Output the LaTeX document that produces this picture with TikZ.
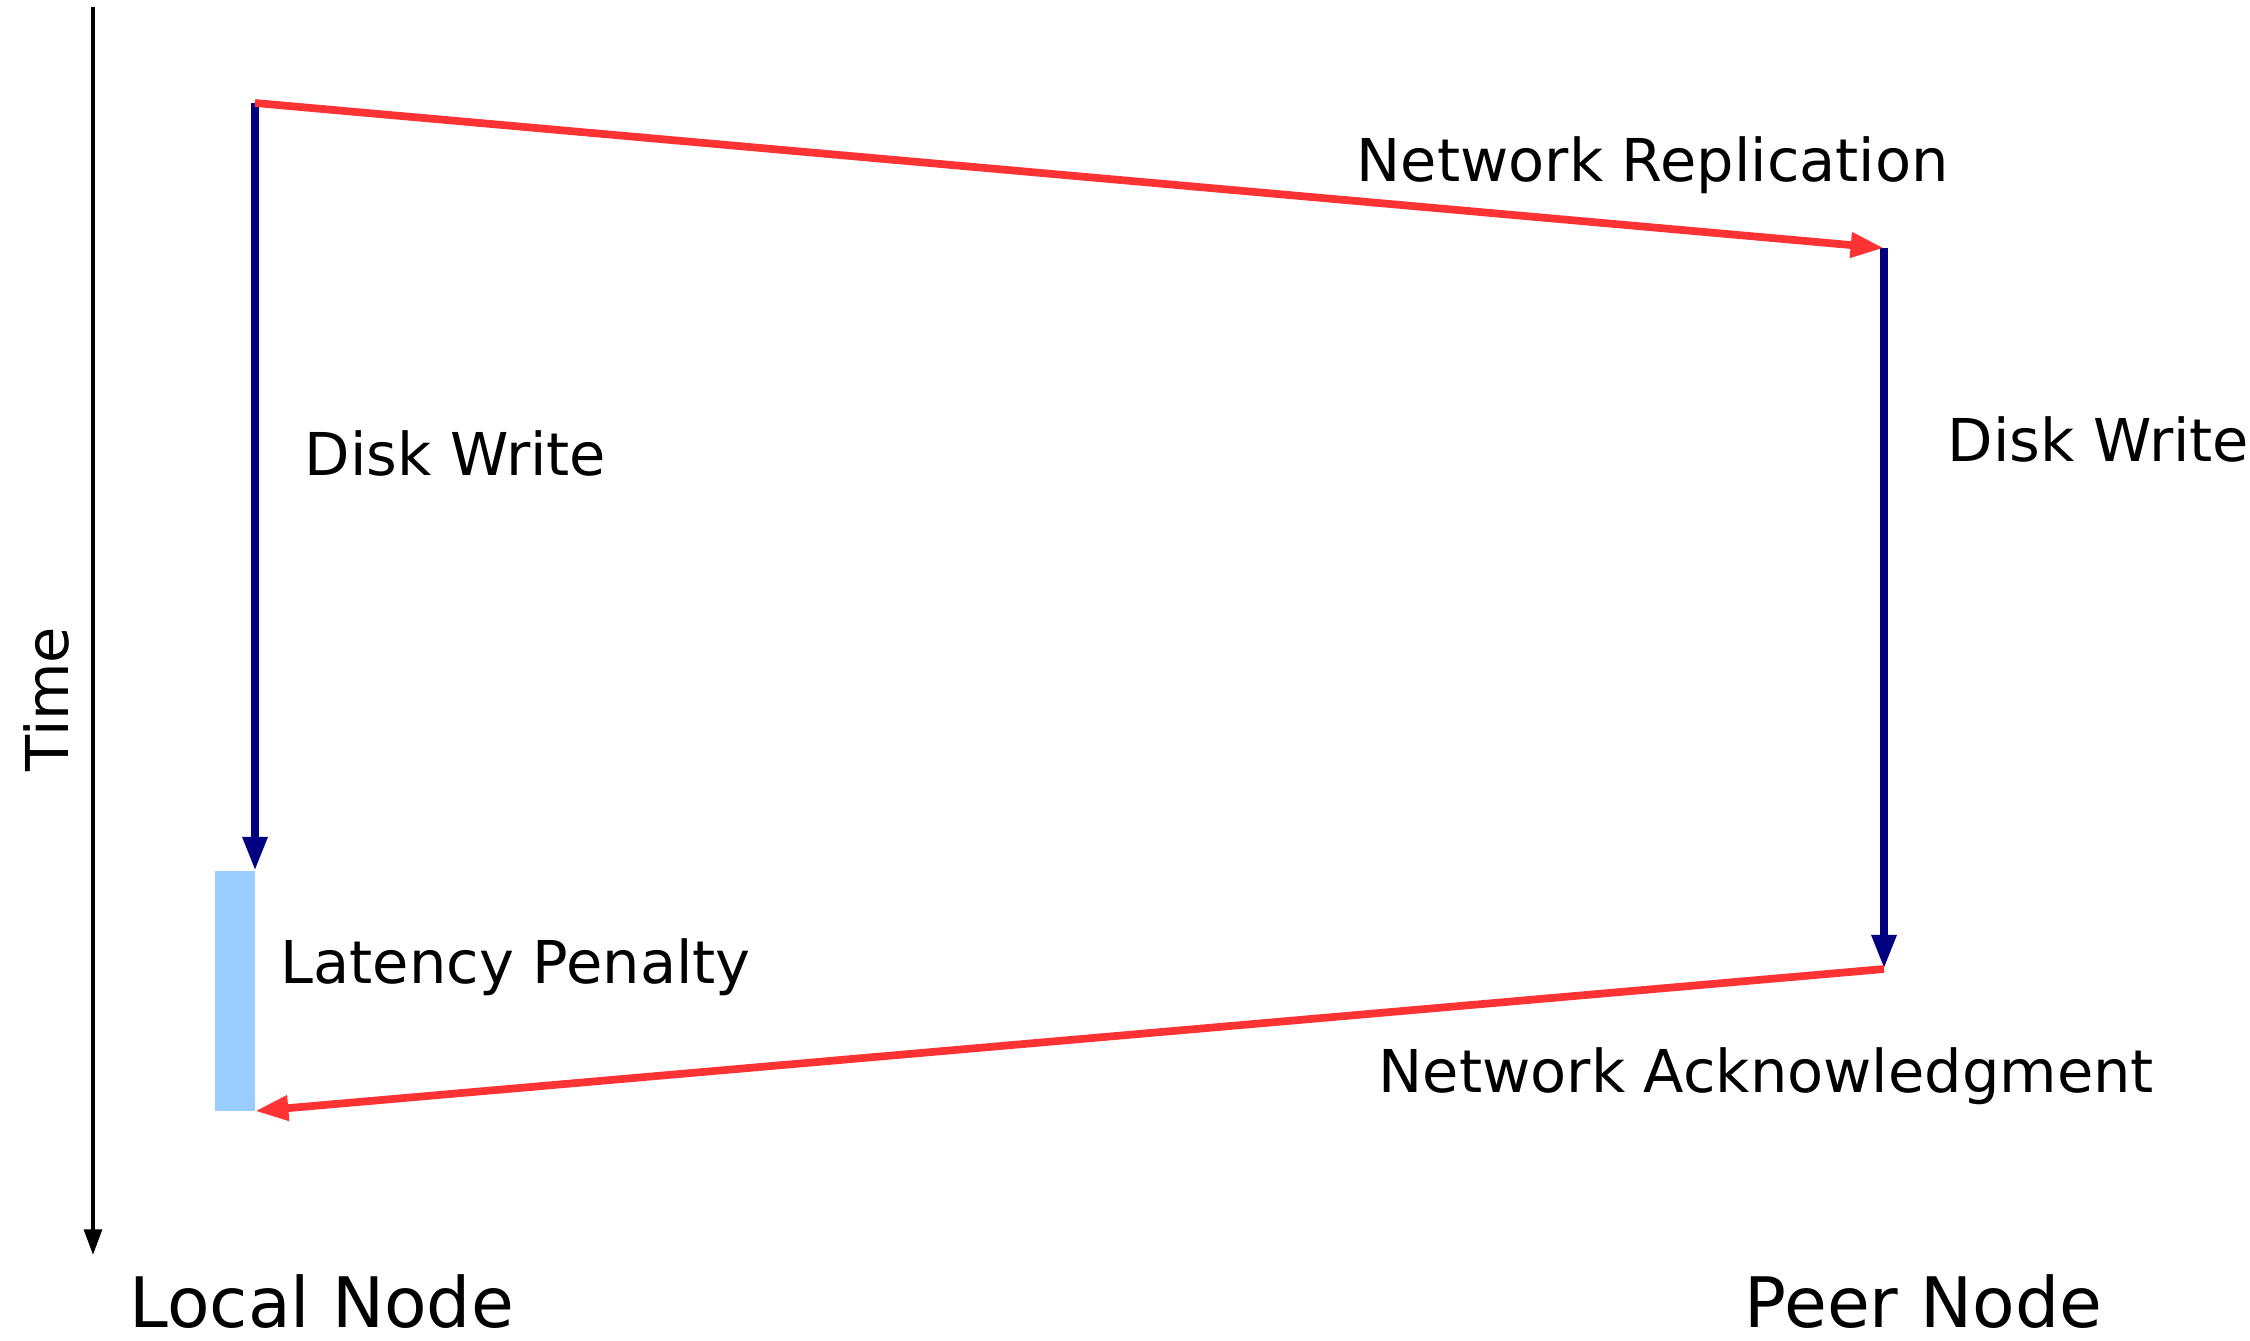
\documentclass[tikz,border=0pt]{standalone}
\usepackage{fontspec}
\setmainfont{DejaVu Sans}
\usetikzlibrary{arrows.meta}

\definecolor{msgred}{HTML}{FF3333}
\definecolor{diskblue}{HTML}{000080}
\definecolor{penaltyblue}{HTML}{99CCFF}

\begin{document}
\begin{tikzpicture}[
    message/.style={draw=msgred, line width=2.2pt, -{Triangle[length=9.5pt,width=6.8pt]}},
    disk/.style={draw=diskblue, line width=2.3pt, -{Triangle[length=9.7pt,width=6.6pt]}},
    timeline/.style={draw=black, line width=1.2pt, -{Triangle[length=7.3pt,width=5pt]}},
    textlabel/.style={anchor=west, inner sep=0pt, font=\fontsize{16.8}{20}\selectfont},
    sidelabel/.style={anchor=west, inner sep=0pt, font=\fontsize{19.8}{24}\selectfont}
]
    \useasboundingbox (0,0) rectangle (22.5,-13.4);

    \node [coordinate] (time start) at (0.93,-0.07) []{};
    \node [coordinate] (time end) at (0.93,-12.55) []{};

    \node [coordinate] (local start) at (2.55,-1.03) []{};
    \node [coordinate] (local done) at (2.55,-8.71) []{};
    \node [coordinate] (local ack) at (2.55,-11.11) []{};
    \node [coordinate] (peer start) at (18.84,-2.48) []{};
    \node [coordinate] (peer done) at (18.84,-9.69) []{};

    \fill [penaltyblue] (2.15,-8.71) rectangle (local ack);

    \draw[timeline] (time start) -- (time end);
    \draw[disk] (local start) -- (local done);
    \draw[disk] (peer start) -- (peer done);
    \draw[message] (local start) -- (peer start);
    \draw[message] (peer done) -- (local ack);

    \node[textlabel, rotate=90, anchor=center] (time label) at (0.46,-6.99) {Time};
    \node[textlabel] (local disk) at (3.04,-4.53) {Disk Write};
    \node[textlabel] (peer disk) at (19.47,-4.39) {Disk Write};
    \node[textlabel] (replication) at (13.56,-1.65) {Network Replication};
    \node[textlabel] (penalty) at (2.80,-9.67) {Latency Penalty};
    \node[textlabel] (acknowledgment) at (13.78,-10.76) {Network Acknowledgment};

    \node[sidelabel] (local node) at (1.29,-13.02) {Local Node};
    \node[sidelabel] (peer node) at (17.44,-13.02) {Peer Node};
\end{tikzpicture}
\end{document}
